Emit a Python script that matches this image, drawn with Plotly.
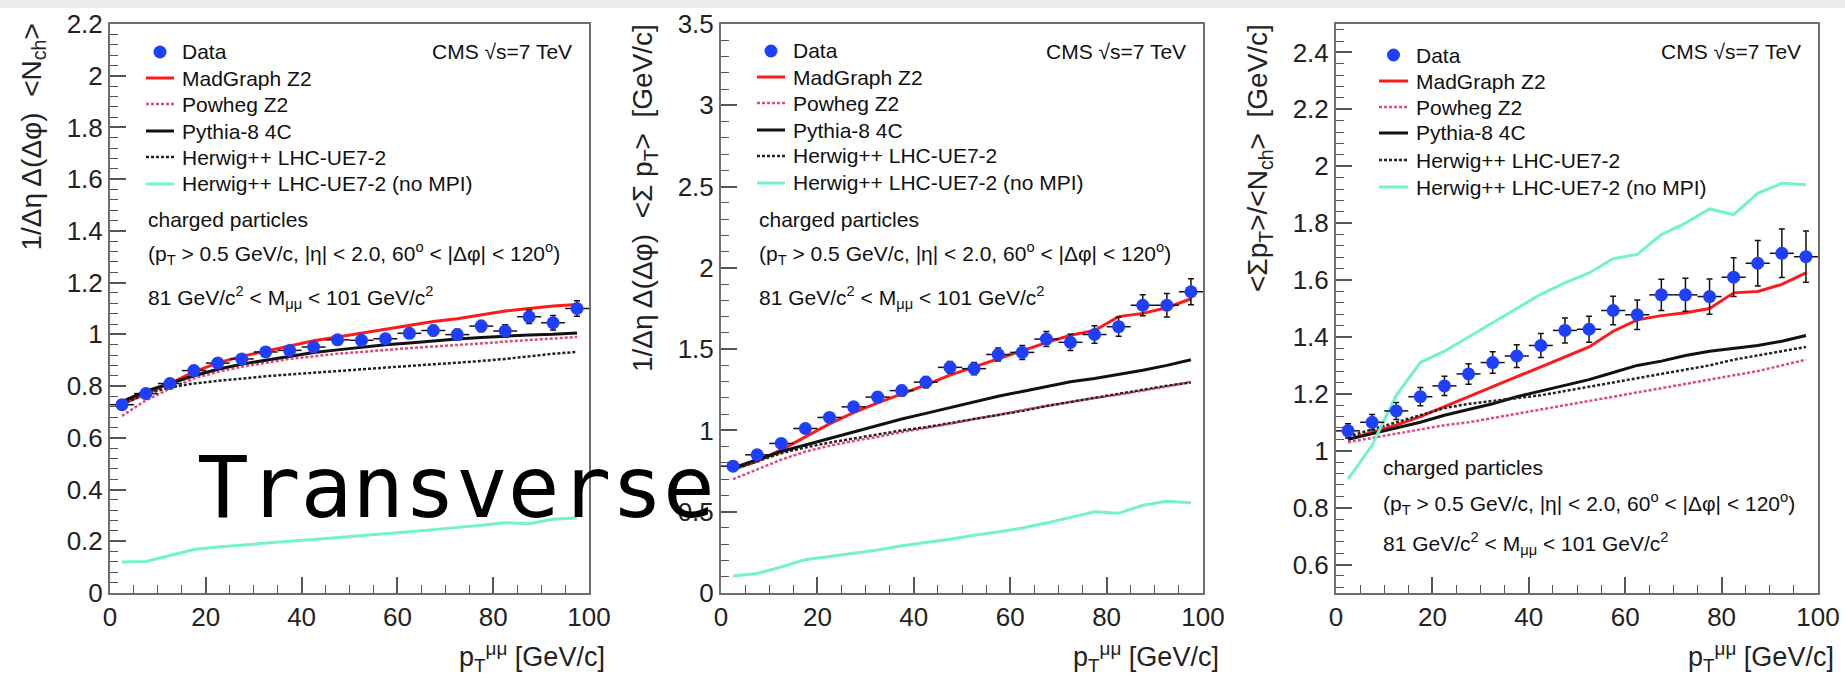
import plotly.graph_objects as go

# ---------------- data ----------------
pt = [2.5, 7.5, 12.5, 17.5, 22.5, 27.5, 32.5, 37.5, 42.5, 47.5,
      52.5, 57.5, 62.5, 67.5, 72.5, 77.5, 82.5, 87.5, 92.5, 97.5]
pt_halfwidth = [2.5] * 20

# Panel 1: 1/(deta dphi) <Nch>
nch_data = [0.728, 0.771, 0.810, 0.860, 0.889, 0.905, 0.932, 0.938, 0.951, 0.979,
            0.977, 0.983, 1.004, 1.015, 0.999, 1.032, 1.013, 1.068, 1.045, 1.100]
nch_err = [0.012, 0.012, 0.012, 0.013, 0.013, 0.014, 0.014, 0.015, 0.015, 0.016,
           0.017, 0.018, 0.019, 0.020, 0.021, 0.022, 0.024, 0.026, 0.028, 0.030]
nch_madgraph = [0.73, 0.77, 0.81, 0.855, 0.89, 0.915, 0.935, 0.955, 0.975, 0.99,
                1.005, 1.02, 1.035, 1.05, 1.06, 1.075, 1.09, 1.10, 1.11, 1.115]
nch_powheg = [0.685, 0.745, 0.79, 0.83, 0.855, 0.875, 0.89, 0.905, 0.915, 0.925,
              0.932, 0.94, 0.947, 0.953, 0.958, 0.965, 0.972, 0.978, 0.985, 0.99]
nch_pythia = [0.74, 0.78, 0.81, 0.84, 0.865, 0.885, 0.90, 0.915, 0.93, 0.94,
              0.95, 0.96, 0.967, 0.975, 0.982, 0.988, 0.993, 0.998, 1.0, 1.005]
nch_herwig = [0.73, 0.77, 0.795, 0.81, 0.82, 0.83, 0.838, 0.845, 0.852, 0.858,
              0.865, 0.872, 0.878, 0.884, 0.89, 0.897, 0.905, 0.915, 0.925, 0.932]
nch_nompi = [0.12, 0.122, 0.145, 0.168, 0.178, 0.186, 0.193, 0.20, 0.207, 0.214,
             0.222, 0.23, 0.237, 0.245, 0.253, 0.262, 0.272, 0.268, 0.285, 0.29]

# Panel 2: 1/(deta dphi) <sum pT>
ptsum_data = [0.78, 0.85, 0.92, 1.012, 1.08, 1.145, 1.205, 1.245, 1.297, 1.388,
              1.38, 1.467, 1.48, 1.562, 1.542, 1.59, 1.638, 1.77, 1.77, 1.853]
ptsum_err = [0.02, 0.02, 0.022, 0.024, 0.026, 0.028, 0.03, 0.032, 0.034, 0.036,
             0.038, 0.04, 0.043, 0.046, 0.05, 0.054, 0.058, 0.065, 0.072, 0.08]
ptsum_madgraph = [0.76, 0.81, 0.88, 0.96, 1.04, 1.11, 1.17, 1.225, 1.28, 1.34,
                  1.39, 1.44, 1.49, 1.54, 1.585, 1.615, 1.70, 1.72, 1.755, 1.81]
ptsum_powheg = [0.70, 0.76, 0.82, 0.87, 0.905, 0.935, 0.96, 0.99, 1.015, 1.04,
                1.07, 1.095, 1.125, 1.15, 1.175, 1.20, 1.22, 1.245, 1.27, 1.30]
ptsum_pythia = [0.77, 0.82, 0.87, 0.91, 0.95, 0.99, 1.03, 1.07, 1.105, 1.14,
                1.175, 1.21, 1.24, 1.27, 1.30, 1.32, 1.345, 1.37, 1.40, 1.435]
ptsum_herwig = [0.76, 0.81, 0.86, 0.895, 0.925, 0.95, 0.975, 1.0, 1.02, 1.045,
                1.07, 1.095, 1.12, 1.15, 1.175, 1.20, 1.225, 1.25, 1.275, 1.295]
ptsum_nompi = [0.105, 0.12, 0.16, 0.205, 0.225, 0.245, 0.265, 0.29, 0.31, 0.33,
               0.355, 0.375, 0.40, 0.43, 0.465, 0.50, 0.49, 0.54, 0.565, 0.555]

# Panel 3: <sum pT>/<Nch>
meanpt_data = [1.07, 1.10, 1.14, 1.19, 1.228, 1.27, 1.31, 1.333, 1.37, 1.423,
               1.427, 1.493, 1.478, 1.548, 1.548, 1.542, 1.61, 1.659, 1.694, 1.682]
meanpt_err = [0.025, 0.027, 0.03, 0.032, 0.034, 0.036, 0.038, 0.04, 0.042, 0.044,
              0.046, 0.05, 0.052, 0.055, 0.058, 0.062, 0.068, 0.08, 0.085, 0.09]
meanpt_madgraph = [1.04, 1.065, 1.09, 1.12, 1.155, 1.19, 1.225, 1.26, 1.295, 1.33,
                   1.365, 1.42, 1.46, 1.475, 1.485, 1.50, 1.555, 1.56, 1.585, 1.625]
meanpt_powheg = [1.03, 1.045, 1.06, 1.075, 1.09, 1.10, 1.115, 1.13, 1.145, 1.16,
                 1.175, 1.19, 1.205, 1.22, 1.235, 1.25, 1.265, 1.28, 1.30, 1.32]
meanpt_pythia = [1.04, 1.06, 1.08, 1.10, 1.125, 1.145, 1.165, 1.19, 1.21, 1.23,
                 1.25, 1.275, 1.30, 1.315, 1.335, 1.35, 1.36, 1.37, 1.385, 1.405]
meanpt_herwig = [1.05, 1.075, 1.10, 1.125, 1.15, 1.165, 1.175, 1.185, 1.195, 1.21,
                 1.225, 1.24, 1.255, 1.27, 1.285, 1.30, 1.32, 1.335, 1.35, 1.365]
meanpt_nompi = [0.90, 1.02, 1.195, 1.31, 1.35, 1.40, 1.45, 1.50, 1.55, 1.59,
                1.625, 1.675, 1.69, 1.76, 1.80, 1.85, 1.83, 1.905, 1.94, 1.935]

series_names = ["Data", "MadGraph Z2", "Powheg Z2", "Pythia-8 4C",
                "Herwig++ LHC-UE7-2", "Herwig++ LHC-UE7-2 (no MPI)"]

y_titles = ["1/Δη Δ(Δφ)  &lt;N<sub>ch</sub>&gt;",
            "1/Δη Δ(Δφ)  &lt;Σ p<sub>T</sub>&gt;  [GeV/c]",
            "&lt;Σp<sub>T</sub>&gt;/&lt;N<sub>ch</sub>&gt;  [GeV/c]"]
x_title = "p<sub>T</sub><sup>μμ</sup> [GeV/c]"
y_ranges = [[0, 2.2], [0, 3.5], [0.5, 2.5]]
y_dticks = [0.2, 0.5, 0.2]
y_minor = [0.04, 0.1, 0.04]

# ---------------- layout geometry (pixels of 1845x680 canvas) ----------------
W, H = 1845, 680
FONT = "Liberation Sans, Arial, sans-serif"
panels_px = [(110, 589), (721, 1203), (1336, 1818)]
top_px, bot_px = 24, 593


def px(x):
    return x / W


def py(y):
    return 1 - y / H


ydom = [py(bot_px), py(top_px)]

DATA_COLOR = "#1f3fff"
line_styles = [
    dict(color="#ff1a1a", width=3, dash="solid"),
    dict(color="#e04a7a", width=2.5, dash="3px,2px"),
    dict(color="#111111", width=3, dash="solid"),
    dict(color="#222222", width=2.5, dash="3px,2px"),
    dict(color="#72f2cf", width=3, dash="solid"),
]

panel_sets = [
    (nch_data, nch_err, [nch_madgraph, nch_powheg, nch_pythia, nch_herwig, nch_nompi]),
    (ptsum_data, ptsum_err, [ptsum_madgraph, ptsum_powheg, ptsum_pythia, ptsum_herwig, ptsum_nompi]),
    (meanpt_data, meanpt_err, [meanpt_madgraph, meanpt_powheg, meanpt_pythia, meanpt_herwig, meanpt_nompi]),
]

fig = go.Figure()
# model curves first
for i, (d, e, models) in enumerate(panel_sets):
    sfx = "" if i == 0 else str(i + 1)
    for k, ys in enumerate(models):
        fig.add_trace(go.Scatter(
            x=pt, y=ys, mode="lines", name=series_names[k + 1],
            xaxis="x" + sfx, yaxis="y" + sfx, line=line_styles[k], showlegend=False,
        ))
# data on top
for i, (d, e, models) in enumerate(panel_sets):
    sfx = "" if i == 0 else str(i + 1)
    fig.add_trace(go.Scatter(
        x=pt, y=d, mode="markers", name=series_names[0],
        xaxis="x" + sfx, yaxis="y" + sfx, showlegend=False,
        marker=dict(color=DATA_COLOR, size=13, symbol="circle"),
        error_x=dict(type="data", array=pt_halfwidth, color="#111", thickness=1.5, width=0),
        error_y=dict(type="data", array=e, color="#111", thickness=1.5, width=3),
    ))

axis_common = dict(
    showline=True, mirror=True, linecolor="#6f6f6f", linewidth=2,
    ticks="inside", ticklen=16, tickwidth=1.5, tickcolor="#555",
    tickfont=dict(family=FONT, size=26, color="#222"),
    showgrid=False, zeroline=False, automargin=False,
)

layout = dict(
    width=W, height=H, autosize=False,
    margin=dict(l=0, r=0, t=0, b=0),
    paper_bgcolor="white", plot_bgcolor="white",
    font=dict(family=FONT, color="#222"),
    showlegend=False,
)

annotations = []
shapes = [dict(type="rect", xref="paper", yref="paper", x0=0, x1=1,
               y0=py(8), y1=1, fillcolor="#ececec", line=dict(width=0), layer="below")]

# legend key geometry relative to each panel's left edge: (line start, line end, text start)
key_offsets = [(36, 64, 70), (36, 64, 70), (43, 72, 78)]
key_rows = [[52, 78, 104, 131, 157, 184],
            [51, 77, 103, 130, 156, 183],
            [55, 81, 107, 133, 160, 187]]

for i, (x0, x1) in enumerate(panels_px):
    sfx = "" if i == 0 else str(i + 1)
    layout["xaxis" + sfx] = dict(
        axis_common, domain=[px(x0), px(x1)], range=[0, 100], dtick=20,
        anchor="y" + sfx,
        minor=dict(ticks="inside", ticklen=8, tickcolor="#555", tickwidth=1.2, dtick=5),
    )
    layout["yaxis" + sfx] = dict(
        axis_common, domain=ydom, range=y_ranges[i], dtick=y_dticks[i],
        anchor="x" + sfx,
        minor=dict(ticks="inside", ticklen=8, tickcolor="#555", tickwidth=1.2, dtick=y_minor[i]),
    )
    # legend keys
    l0, l1, t0 = key_offsets[i]
    rows = key_rows[i]
    for r, name in enumerate(series_names):
        yy = rows[r]
        if r == 0:
            cx, rad = x0 + (l0 + l1) / 2, 6.5
            shapes.append(dict(type="circle", xref="paper", yref="paper",
                               x0=px(cx - rad), x1=px(cx + rad), y0=py(yy + rad), y1=py(yy - rad),
                               fillcolor=DATA_COLOR, line=dict(width=0)))
        else:
            shapes.append(dict(type="line", xref="paper", yref="paper",
                               x0=px(x0 + l0), x1=px(x0 + l1), y0=py(yy), y1=py(yy),
                               line=line_styles[r - 1]))
        annotations.append(dict(
            text=name, xref="paper", yref="paper", x=px(x0 + t0), y=py(yy),
            xanchor="left", yanchor="middle", showarrow=False,
            font=dict(family=FONT, size=21, color="#111"),
        ))
    # y axis title
    annotations.append(dict(
        text=y_titles[i], textangle=-90, xref="paper", yref="paper",
        x=px(x0 - 77), y=py(top_px - 2), xanchor="center", yanchor="top",
        showarrow=False, font=dict(family=FONT, size=28, color="#222"),
    ))
    # x axis title
    annotations.append(dict(
        text=x_title, xref="paper", yref="paper",
        x=px(x1 + 18), y=py(657), xanchor="right", yanchor="middle",
        showarrow=False, font=dict(family=FONT, size=27, color="#222"),
    ))
    # CMS label
    annotations.append(dict(
        text="CMS √s=7 TeV", xref="paper", yref="paper",
        x=px(x1 - 15), y=py(52), xanchor="right", yanchor="middle",
        showarrow=False, font=dict(family=FONT, size=21, color="#111"),
    ))
    # selection text
    if i < 2:
        tx, ty = x0 + 36, [220, 253, 297]
    else:
        tx, ty = x0 + 45, [467, 503, 543]
    texts = ["charged particles",
             "(p<sub>T</sub> &gt; 0.5 GeV/c, |η| &lt; 2.0, 60<sup>o</sup> &lt; |Δφ| &lt; 120<sup>o</sup>)",
             "81 GeV/c<sup>2</sup> &lt; M<sub>μμ</sub> &lt; 101 GeV/c<sup>2</sup>"]
    for t, yy in zip(texts, ty):
        annotations.append(dict(
            text=t, xref="paper", yref="paper", x=px(tx), y=py(yy),
            xanchor="left", yanchor="middle", showarrow=False,
            font=dict(family=FONT, size=21, color="#111"),
        ))

# handwritten overlay word
annotations.append(dict(
    text="Transverse", xref="paper", yref="paper", x=px(456), y=py(487),
    xanchor="center", yanchor="middle", showarrow=False,
    font=dict(family="DejaVu Sans Mono", size=86, color="#000"),
))

layout["annotations"] = annotations
layout["shapes"] = shapes

fig.update_layout(**layout)
fig.write_html("out.html")
